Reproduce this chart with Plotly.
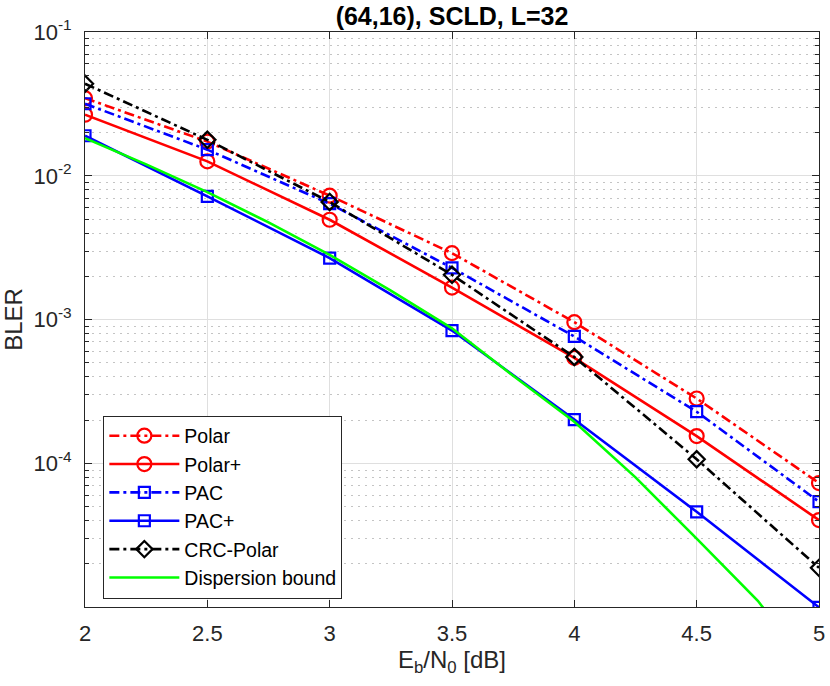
import plotly.graph_objects as go

# ---- data ----
ebn0 = [2.0, 2.5, 3.0, 3.5, 4.0, 4.5, 5.0]
polar = [0.0347, 0.0173, 0.00728, 0.00290, 0.00096, 2.83e-4, 7.31e-5]
polar_plus = [0.0266, 0.0126, 0.00495, 0.00167, 5.43e-4, 1.55e-4, 4.04e-5]
pac = [0.0317, 0.0152, 0.00640, 0.00229, 7.64e-4, 2.29e-4, 5.42e-5]
pac_plus = [0.0190, 0.00720, 0.00268, 8.40e-4, 2.02e-4, 4.61e-5, 1.00e-5]
crc_polar = [0.0437, 0.0178, 0.00658, 0.00205, 5.50e-4, 1.07e-4, 1.88e-5]

disp_x = [2.0, 2.25, 2.5, 2.75, 3.0, 3.25, 3.5, 3.75, 4.0, 4.25, 4.5, 4.75, 4.8]
disp_y = [0.0183, 0.0120, 0.0077, 0.00474, 0.00282, 0.00159, 8.7e-4, 4.07e-4,
          1.95e-4, 8.0e-5, 3.0e-5, 1.11e-5, 8.6e-6]

ytick_vals = [1e-1, 1e-2, 1e-3, 1e-4]
ytick_text = ["10<sup>-1</sup>", "10<sup>-2</sup>", "10<sup>-3</sup>", "10<sup>-4</sup>"]
xtick_vals = [2, 2.5, 3, 3.5, 4, 4.5, 5]
xtick_text = ["2", "2.5", "3", "3.5", "4", "4.5", "5"]

FONT = "Liberation Sans, Arial, sans-serif"
AX = "#262626"
DASHDOT = "10px,4px,3px,4px"
LW = 2.6

fig = go.Figure()

def add(name, x, y, color, dash, symbol=None, size=12):
    mode = "lines+markers" if symbol else "lines"
    fig.add_trace(go.Scatter(
        x=x, y=y, name=name, mode=mode,
        line=dict(color=color, width=LW, dash=dash),
        marker=dict(symbol=symbol, size=size, color=color,
                    line=dict(color=color, width=2.2)) if symbol else None,
    ))

add("Polar", ebn0, polar, "#FF0000", DASHDOT, "circle-open", 14)
add("Polar+", ebn0, polar_plus, "#FF0000", "solid", "circle-open", 14)
add("PAC", ebn0, pac, "#0000FF", DASHDOT, "square-open", 11)
add("PAC+", ebn0, pac_plus, "#0000FF", "solid", "square-open", 11)
add("CRC-Polar", ebn0, crc_polar, "#000000", DASHDOT, "diamond-open", 12.5)
add("Dispersion bound", disp_x, disp_y, "#00FF00", "solid")

fig.update_layout(
    width=830, height=686,
    margin=dict(l=85, r=11, t=32, b=79, autoexpand=False),
    paper_bgcolor="white", plot_bgcolor="white",
    font=dict(family=FONT, size=20, color=AX),
    title=dict(text="<b>(64,16), SCLD, L=32</b>", x=0.5, xref="paper",
               y=1 - 16 / 686, yref="container", yanchor="middle",
               font=dict(family=FONT, size=25, color="#000000")),
    showlegend=True,
    legend=dict(x=0.025, y=0.333, xanchor="left", yanchor="top",
                bgcolor="white", bordercolor=AX, borderwidth=1,
                font=dict(family=FONT, size=19.5, color="#000000"),
                itemwidth=70, tracegroupgap=0),
)

fig.update_xaxes(
    range=[2, 5], tickvals=xtick_vals, ticktext=xtick_text, automargin=False,
    showline=True, linecolor=AX, linewidth=1, mirror="allticks",
    ticks="inside", ticklen=7, tickcolor=AX, tickwidth=1,
    showgrid=True, gridcolor="#dfdfdf", gridwidth=1, zeroline=False,
    tickfont=dict(family=FONT, size=22, color=AX), ticklabelstandoff=7,
    title=dict(text="E<sub>b</sub>/N<sub>0</sub> [dB]", standoff=0,
               font=dict(family=FONT, size=24, color=AX)),
)

fig.update_yaxes(
    type="log", range=[-4.998, -1], automargin=False,
    tickvals=ytick_vals, ticktext=ytick_text,
    showline=True, linecolor=AX, linewidth=1, mirror="allticks",
    ticks="inside", ticklen=7, tickcolor=AX, tickwidth=1,
    showgrid=True, gridcolor="#dfdfdf", gridwidth=1, zeroline=False,
    tickfont=dict(family=FONT, size=22, color=AX), ticklabelstandoff=8,
    minor=dict(dtick="D1", ticks="inside", ticklen=4, tickcolor=AX,
               showgrid=True, gridcolor="#c4c4c4", griddash="2px,5px", gridwidth=1),
    title=dict(text="BLER", standoff=4,
               font=dict(family=FONT, size=24, color=AX)),
)

fig.write_html("out.html", config={"displayModeBar": False},
               post_script="document.body.style.margin='0';document.body.style.overflow='hidden';")
